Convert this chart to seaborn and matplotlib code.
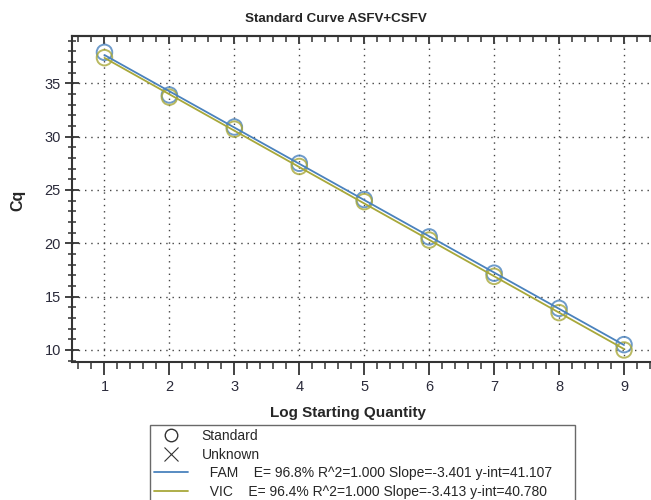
import numpy as np
import pandas as pd
import matplotlib
matplotlib.use("Agg")
import matplotlib.pyplot as plt
from matplotlib.lines import Line2D
from matplotlib.ticker import MultipleLocator
import seaborn as sns

# ---- data ----
log_qty = [1, 2, 3, 4, 5, 6, 7, 8, 9]
fam_cq = [37.9, 33.9, 30.9, 27.5, 24.1, 20.6, 17.2, 13.9, 10.5]
vic_cq = [37.4, 33.7, 30.7, 27.2, 23.9, 20.3, 16.9, 13.5, 10.0]
series_names = ["FAM", "VIC"]
series_stats = ["E= 96.8% R^2=1.000 Slope=-3.401 y-int=41.107",
                "E= 96.4% R^2=1.000 Slope=-3.413 y-int=40.780"]
title = "Standard Curve ASFV+CSFV"
xlabel = "Log Starting Quantity"
ylabel = "Cq"
y_ticks = [10, 15, 20, 25, 30, 35]

colors = {"FAM": "#4a82bd", "VIC": "#a8a83a"}

sns.set_style("white")
plt.rcParams["font.family"] = ["Liberation Sans", "DejaVu Sans"]

fig = plt.figure(figsize=(6.51, 5.0), dpi=100)
ax = fig.add_axes([72/651, 1-361.7/500, (656.5-72)/651, (361.7-35.7)/500])

df = pd.DataFrame({"x": log_qty * 2, "cq": fam_cq + vic_cq,
                   "dye": ["FAM"] * 9 + ["VIC"] * 9})
for name in series_names:
    sub = df[df.dye == name]
    sns.regplot(data=sub, x="x", y="cq", ax=ax, ci=None, color=colors[name],
                scatter_kws=dict(s=125, facecolors="none", edgecolors=colors[name],
                                 linewidths=1.4, zorder=3),
                line_kws=dict(lw=1.3, zorder=4))

ax.set_xlim(0.5, 9.5)
ax.set_ylim(8.9, 39.46)
ax.set_xticks(log_qty)
ax.set_yticks(y_ticks)
ax.xaxis.set_minor_locator(MultipleLocator(0.2))
ax.yaxis.set_minor_locator(MultipleLocator(1))
ax.grid(True, which="major", ls=(0, (1, 3.5)), color="#444444", lw=1.0)
tick_col = "#333333"
ax.tick_params(axis="x", which="major", direction="out", length=9, width=1.3,
               color=tick_col, bottom=True, top=False, labelsize=10.5,
               labelcolor="#2a2a3a", pad=4)
ax.tick_params(axis="x", which="minor", direction="out", length=5, width=1.1,
               color=tick_col, bottom=True, top=False)
ax.tick_params(axis="y", which="major", direction="inout", length=10, width=1.3,
               color=tick_col, left=True, right=False, labelsize=10.5,
               labelcolor="#2a2a3a", pad=3)
ax.tick_params(axis="y", which="minor", direction="inout", length=6, width=1.1,
               color=tick_col, left=True, right=False)

# inward ticks along the top spine
sec = ax.secondary_xaxis("top")
sec.set_xticks(log_qty)
sec.xaxis.set_minor_locator(MultipleLocator(0.2))
sec.tick_params(which="major", direction="in", length=6, width=1.3, color=tick_col,
                labeltop=False)
sec.tick_params(which="minor", direction="in", length=4, width=1.1, color=tick_col)
sec.spines["top"].set_color(tick_col)
sec.spines["top"].set_linewidth(1.5)

for side in ["top", "left", "bottom"]:
    ax.spines[side].set_color(tick_col)
    ax.spines[side].set_linewidth(1.5)
ax.spines["right"].set_visible(False)

ax.set_xlabel(xlabel, fontsize=11, fontweight="bold")
ax.set_ylabel(ylabel, fontsize=11.5, fontweight="bold")
ax.xaxis.set_label_coords((348-72)/(656.5-72), -0.135)
ax.yaxis.set_label_coords(-(72-25)/(656.5-72), (361.7-200)/(361.7-35.7))

fig.text(336/651, 1-19/500, title, ha="center", va="center", fontsize=9.6,
         fontweight="bold")

handles = [
    Line2D([], [], marker="o", ls="none", mfc="none", mec="#333333", ms=9, mew=1.0),
    Line2D([], [], marker="x", ls="none", color="#333333", ms=10, mew=0.8),
    Line2D([], [], color=colors["FAM"], lw=1.3),
    Line2D([], [], color=colors["VIC"], lw=1.3),
]
labels = ["Standard", "Unknown",
          f"  {series_names[0]}    {series_stats[0]}     ",
          f"  {series_names[1]}    {series_stats[1]}     "]
leg = fig.legend(handles, labels, loc="upper left", bbox_to_anchor=(150/651, 1-425/500),
                 frameon=True, fancybox=False, edgecolor="#444444", fontsize=10,
                 handlelength=2.4, handletextpad=1.02, labelspacing=0.33,
                 borderpad=0.3, borderaxespad=0)
leg.get_frame().set_linewidth(1.0)

fig.savefig("out.png", dpi=100)
